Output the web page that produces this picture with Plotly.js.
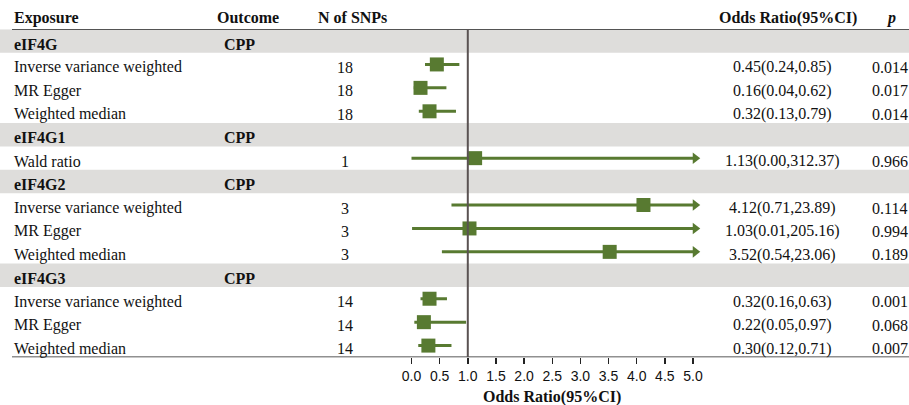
<!DOCTYPE html>
<html>
<head>
<meta charset="utf-8">
<script src="https://cdn.plot.ly/plotly-3.0.1.min.js"></script>
<style>html,body{margin:0;padding:0;background:#fff;}#chart{width:909px;height:405px;}</style>
</head>
<body>
<div id="chart"></div>
<script>
// ---- data ----
const rowLabels = ['eIF4G','Inverse variance weighted','MR Egger','Weighted median',
                   'eIF4G1','Wald ratio',
                   'eIF4G2','Inverse variance weighted','MR Egger','Weighted median',
                   'eIF4G3','Inverse variance weighted','MR Egger','Weighted median'];
const isGroup   = [true,false,false,false, true,false, true,false,false,false, true,false,false,false];
const outcomes  = ['CPP',null,null,null,'CPP',null,'CPP',null,null,null,'CPP',null,null,null];
const nSNPs     = [null,18,18,18, null,1, null,3,3,3, null,14,14,14];
const orVals    = [null,0.45,0.16,0.32, null,1.13, null,4.12,1.03,3.52, null,0.32,0.22,0.30];
const ciLow     = [null,0.24,0.04,0.13, null,0.00, null,0.71,0.01,0.54, null,0.16,0.05,0.12];
const ciHigh    = [null,0.85,0.62,0.79, null,312.37, null,23.89,205.16,23.06, null,0.63,0.97,0.71];
const pVals     = [null,'0.014','0.017','0.014', null,'0.966', null,'0.114','0.994','0.189', null,'0.001','0.068','0.007'];
const xTicks    = [0,0.5,1,1.5,2,2.5,3,3.5,4,4.5,5];
const xTickText = ['0.0','0.5','1.0','1.5','2.0','2.5','3.0','3.5','4.0','4.5','5.0'];
const headers   = ['Exposure','Outcome','N of SNPs','Odds Ratio(95%CI)','p'];

// ---- style ----
const W = 909, H = 405;
const GREEN = '#587A31';
const SERIF = 'Liberation Serif, Times New Roman, serif';
const XMAX = 5, ARROW_X = 5.04;
const X0PX = 411.5, UNITPX = 56.3;          // pixel of OR=0 and pixels per unit
const RMIN = -0.1, RMAX = 5.2;              // axis range (with room for arrowheads)
const topPx = 29.3, botPx = 357.3;
const px = v => v / W;
const nRows = rowLabels.length;
const rows = rowLabels.map((_, i) => i + 1);

// ---- traces ----
const lx = [], ly = [];
const ax = [], ay = [];
rows.forEach((r, i) => {
  if (orVals[i] === null) return;
  lx.push(ciLow[i], Math.min(ciHigh[i], XMAX), null);
  ly.push(r, r, null);
  if (ciHigh[i] > XMAX) { ax.push(ARROW_X); ay.push(r); }
});
const pxOr = [], pyOr = [];
rows.forEach((r, i) => { if (orVals[i] !== null) { pxOr.push(orVals[i]); pyOr.push(r); } });

const traces = [
  {type:'scatter', mode:'lines', x:lx, y:ly, line:{color:GREEN, width:3}, cliponaxis:false, hoverinfo:'skip'},
  {type:'scatter', mode:'markers', x:ax, y:ay, marker:{symbol:'triangle-right', size:10, color:GREEN, line:{width:0}}, cliponaxis:false, hoverinfo:'skip'},
  {type:'scatter', mode:'markers', x:pxOr, y:pyOr, marker:{symbol:'square', size:14, color:GREEN, line:{width:0}}, cliponaxis:false, hoverinfo:'skip'}
];

// ---- table shapes & text ----
const shapes = [];
const ann = [];
const txt = (x, y, text, opts) => Object.assign({
  xref:'paper', yref:'y', x:px(x), y:y, text:text, showarrow:false,
  xanchor:'left', yanchor:'middle', yshift:-3,
  font:{family:SERIF, size:16, color:'#111'}
}, opts || {});
const hdr = (x, text, opts) => Object.assign({
  xref:'paper', yref:'paper', x:px(x), y:1 - 18/H, text:text, showarrow:false,
  xanchor:'left', yanchor:'middle',
  font:{family:SERIF, size:16, color:'#111'}
}, opts || {});

rows.forEach((r, i) => {
  if (isGroup[i]) {
    shapes.push({type:'rect', xref:'paper', yref:'y', x0:0, x1:1, y0:r-0.5, y1:r+0.5,
      fillcolor:'#DEDDDB', line:{width:0}, layer:'below'});
    ann.push(txt(12, r, '<b>' + rowLabels[i] + '</b>'));
    if (outcomes[i]) ann.push(txt(222, r, '<b>' + outcomes[i] + '</b>'));
  } else {
    ann.push(txt(12, r, rowLabels[i]));
    ann.push(txt(345, r, String(nSNPs[i]), {xanchor:'center'}));
    ann.push(txt(782, r, orVals[i].toFixed(2) + '(' + ciLow[i].toFixed(2) + ',' + ciHigh[i].toFixed(2) + ')', {xanchor:'center'}));
    ann.push(txt(870, r, pVals[i]));
  }
});
// header row
ann.push(hdr(12, '<b>' + headers[0] + '</b>'));
ann.push(hdr(215, '<b>' + headers[1] + '</b>'));
ann.push(hdr(352, '<b>' + headers[2] + '</b>', {xanchor:'center'}));
ann.push(hdr(788, '<b>' + headers[3] + '</b>', {xanchor:'center'}));
ann.push(hdr(891, '<b><i>' + headers[4] + '</i></b>', {xanchor:'center'}));

// horizontal rules
shapes.push({type:'line', xref:'paper', yref:'y', x0:px(12), x1:1, y0:0.5, y1:0.5, line:{color:'#222', width:1.6}});
shapes.push({type:'line', xref:'paper', yref:'y', x0:px(12), x1:1, y0:nRows+0.5, y1:nRows+0.5, line:{color:'#222', width:1.6}});
// reference line at OR = 1
shapes.push({type:'line', xref:'x', yref:'y', x0:1, x1:1, y0:0.5, y1:nRows+0.5, line:{color:'#5A5252', width:2}});

const layout = {
  width:W, height:H,
  margin:{l:0, r:0, t:0, b:0, pad:0},
  paper_bgcolor:'#fff', plot_bgcolor:'rgba(0,0,0,0)',
  showlegend:false,
  xaxis:{
    domain:[(X0PX + RMIN*UNITPX)/W, (X0PX + RMAX*UNITPX)/W], range:[RMIN, RMAX],
    tickvals:xTicks, ticktext:xTickText,
    ticks:'outside', ticklen:6, tickwidth:1.5, tickcolor:'#222',
    showgrid:false, zeroline:false, showline:false,
    tickfont:{family:'Liberation Sans, Arial, sans-serif', size:14, color:'#111'},
    automargin:false, fixedrange:true
  },
  yaxis:{
    domain:[1 - botPx/H, 1 - topPx/H], range:[nRows + 0.5, 0.5],
    showticklabels:false, showgrid:false, zeroline:false, showline:false, ticks:'',
    automargin:false, fixedrange:true
  },
  shapes:shapes,
  annotations:ann.concat([{
    xref:'x', yref:'paper', x:(xTicks[0] + xTicks[xTicks.length-1]) / 2, y:1 - 397/H,
    text:'<b>Odds Ratio(95%CI)</b>', showarrow:false, xanchor:'center', yanchor:'middle',
    font:{family:SERIF, size:16, color:'#111'}
  }])
};

Plotly.newPlot('chart', traces, layout, {staticPlot:true, displayModeBar:false});
</script>
</body>
</html>
